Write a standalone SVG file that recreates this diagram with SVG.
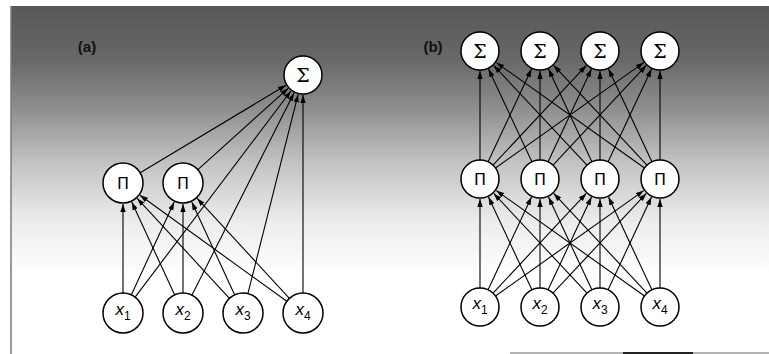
<svg xmlns="http://www.w3.org/2000/svg" width="769" height="354" viewBox="0 0 769 354">
  <defs>
    <linearGradient id="bg" x1="0" y1="6" x2="0" y2="275" gradientUnits="userSpaceOnUse">
      <stop offset="0" stop-color="#585858"/>
      <stop offset="0.2" stop-color="#686868"/>
      <stop offset="0.38" stop-color="#8e8e8e"/>
      <stop offset="0.58" stop-color="#c2c2c2"/>
      <stop offset="0.8" stop-color="#ececec"/>
      <stop offset="1" stop-color="#ffffff"/>
    </linearGradient>
    <marker id="arrow" viewBox="0 0 8 6" refX="8" refY="3" markerWidth="8" markerHeight="6" markerUnits="userSpaceOnUse" orient="auto">
      <path d="M0,0.3 L8,3 L0,5.7 Z" fill="#000"/>
    </marker>
    <style>
      .edge { stroke: #000; stroke-width: 1.1; fill: none; marker-end: url(#arrow); }
      .node circle { fill: #fff; stroke: #000; stroke-width: 1.5; }
      .sum { font-family: "DejaVu Serif", "Liberation Serif", serif; font-size: 19px; text-anchor: middle; fill: #000; }
      .prod { font-family: "DejaVu Sans", "Liberation Sans", sans-serif; font-size: 16px; text-anchor: middle; fill: #000; }
      .var { font-family: "Liberation Sans", Arial, sans-serif; font-size: 17px; font-style: italic; text-anchor: middle; fill: #000; }
      .sub { font-size: 12px; font-style: normal; }
      .panel { font-family: "Liberation Sans", Arial, sans-serif; font-size: 15px; font-weight: bold; fill: #111; text-anchor: middle; }
    </style>
  </defs>

  <!-- page and shaded backdrop -->
  <rect x="0" y="0" width="769" height="354" fill="#fff"/>
  <rect x="11" y="6" width="758" height="348" fill="url(#bg)"/>
  <line x1="11" y1="6" x2="11" y2="354" stroke="#7a7a7a" stroke-width="1.5"/>
  <line x1="510" y1="353" x2="769" y2="353" stroke="#9a9a9a" stroke-width="1.5"/>
  <line x1="623" y1="353" x2="693" y2="353" stroke="#222" stroke-width="2"/>

  <!-- panel labels -->
  <text class="panel" x="87" y="52">(a)</text>
  <text class="panel" x="433" y="52">(b)</text>

  <g id="connectors">
    <!-- (a) inputs to product units -->
    <line class="edge" x1="123" y1="293" x2="123" y2="204"/>
    <line class="edge" x1="131.4" y1="294.8" x2="174.2" y2="202.1"/>
    <line class="edge" x1="174.6" y1="294.8" x2="131.8" y2="202.1"/>
    <line class="edge" x1="183" y1="293" x2="183" y2="204"/>
    <line class="edge" x1="229.4" y1="298.3" x2="137.2" y2="198.4"/>
    <line class="edge" x1="234.6" y1="294.8" x2="191.8" y2="202.1"/>
    <line class="edge" x1="286.8" y1="301.3" x2="140.0" y2="195.3"/>
    <line class="edge" x1="289.4" y1="298.3" x2="197.2" y2="198.4"/>
    <!-- (a) product units to sum -->
    <line class="edge" x1="140.2" y1="172.7" x2="285.9" y2="85.3"/>
    <line class="edge" x1="197.9" y1="169.6" x2="288.1" y2="88.4"/>
    <!-- (a) inputs straight to sum -->
    <line class="edge" x1="135.1" y1="297.1" x2="290.9" y2="91.0"/>
    <line class="edge" x1="192.0" y1="295.1" x2="294.0" y2="92.9"/>
    <line class="edge" x1="247.9" y1="293.6" x2="298.1" y2="94.4"/>
    <line class="edge" x1="303" y1="293" x2="303" y2="95"/>

    <!-- (b) inputs to product units -->
    <line class="edge" x1="480" y1="288" x2="480" y2="199"/>
    <line class="edge" x1="488.1" y1="289.8" x2="531.5" y2="197.1"/>
    <line class="edge" x1="493.0" y1="293.1" x2="586.3" y2="193.4"/>
    <line class="edge" x1="495.5" y1="296.0" x2="643.7" y2="190.6"/>

    <line class="edge" x1="531.9" y1="289.8" x2="488.5" y2="197.1"/>
    <line class="edge" x1="540" y1="288" x2="540" y2="199"/>
    <line class="edge" x1="548.1" y1="289.8" x2="591.5" y2="197.1"/>
    <line class="edge" x1="553.0" y1="293.1" x2="646.3" y2="193.4"/>

    <line class="edge" x1="587.0" y1="293.1" x2="493.7" y2="193.4"/>
    <line class="edge" x1="591.9" y1="289.8" x2="548.5" y2="197.1"/>
    <line class="edge" x1="600" y1="288" x2="600" y2="199"/>
    <line class="edge" x1="608.1" y1="289.8" x2="651.5" y2="197.1"/>

    <line class="edge" x1="644.5" y1="296.0" x2="496.3" y2="190.6"/>
    <line class="edge" x1="647.0" y1="293.1" x2="553.7" y2="193.4"/>
    <line class="edge" x1="651.9" y1="289.8" x2="608.5" y2="197.1"/>
    <line class="edge" x1="660" y1="288" x2="660" y2="199"/>

    <!-- (b) product units to sums -->
    <line class="edge" x1="480" y1="160" x2="480" y2="71"/>
    <line class="edge" x1="488.1" y1="161.8" x2="531.5" y2="69.1"/>
    <line class="edge" x1="493.0" y1="165.1" x2="586.3" y2="65.4"/>
    <line class="edge" x1="495.5" y1="168.0" x2="643.7" y2="62.6"/>

    <line class="edge" x1="531.9" y1="161.8" x2="488.5" y2="69.1"/>
    <line class="edge" x1="540" y1="160" x2="540" y2="71"/>
    <line class="edge" x1="548.1" y1="161.8" x2="591.5" y2="69.1"/>
    <line class="edge" x1="553.0" y1="165.1" x2="646.3" y2="65.4"/>

    <line class="edge" x1="587.0" y1="165.1" x2="493.7" y2="65.4"/>
    <line class="edge" x1="591.9" y1="161.8" x2="548.5" y2="69.1"/>
    <line class="edge" x1="600" y1="160" x2="600" y2="71"/>
    <line class="edge" x1="608.1" y1="161.8" x2="651.5" y2="69.1"/>

    <line class="edge" x1="644.5" y1="168.0" x2="496.3" y2="62.6"/>
    <line class="edge" x1="647.0" y1="165.1" x2="553.7" y2="65.4"/>
    <line class="edge" x1="651.9" y1="161.8" x2="608.5" y2="69.1"/>
    <line class="edge" x1="660" y1="160" x2="660" y2="71"/>
  </g>

  <!-- panel (a) nodes -->
  <g id="a-sum" class="node"><circle cx="303" cy="75" r="19"/><text class="sum" x="303" y="82">Σ</text></g>
  <g id="a-prod1" class="node"><circle cx="123" cy="183" r="20"/><text class="prod" x="123" y="189">Π</text></g>
  <g id="a-prod2" class="node"><circle cx="183" cy="183" r="20"/><text class="prod" x="183" y="189">Π</text></g>
  <g id="a-x1" class="node"><circle cx="123" cy="313" r="20"/><text class="var" x="123" y="315">x<tspan class="sub" dy="5">1</tspan></text></g>
  <g id="a-x2" class="node"><circle cx="183" cy="313" r="20"/><text class="var" x="183" y="315">x<tspan class="sub" dy="5">2</tspan></text></g>
  <g id="a-x3" class="node"><circle cx="243" cy="313" r="20"/><text class="var" x="243" y="315">x<tspan class="sub" dy="5">3</tspan></text></g>
  <g id="a-x4" class="node"><circle cx="303" cy="313" r="20"/><text class="var" x="303" y="315">x<tspan class="sub" dy="5">4</tspan></text></g>

  <!-- panel (b) nodes -->
  <g id="b-sum1" class="node"><circle cx="480" cy="51" r="19"/><text class="sum" x="480" y="58">Σ</text></g>
  <g id="b-sum2" class="node"><circle cx="540" cy="51" r="19"/><text class="sum" x="540" y="58">Σ</text></g>
  <g id="b-sum3" class="node"><circle cx="600" cy="51" r="19"/><text class="sum" x="600" y="58">Σ</text></g>
  <g id="b-sum4" class="node"><circle cx="660" cy="51" r="19"/><text class="sum" x="660" y="58">Σ</text></g>
  <g id="b-prod1" class="node"><circle cx="480" cy="179" r="19"/><text class="prod" x="480" y="185">Π</text></g>
  <g id="b-prod2" class="node"><circle cx="540" cy="179" r="19"/><text class="prod" x="540" y="185">Π</text></g>
  <g id="b-prod3" class="node"><circle cx="600" cy="179" r="19"/><text class="prod" x="600" y="185">Π</text></g>
  <g id="b-prod4" class="node"><circle cx="660" cy="179" r="19"/><text class="prod" x="660" y="185">Π</text></g>
  <g id="b-x1" class="node"><circle cx="480" cy="307" r="19"/><text class="var" x="480" y="309">x<tspan class="sub" dy="5">1</tspan></text></g>
  <g id="b-x2" class="node"><circle cx="540" cy="307" r="19"/><text class="var" x="540" y="309">x<tspan class="sub" dy="5">2</tspan></text></g>
  <g id="b-x3" class="node"><circle cx="600" cy="307" r="19"/><text class="var" x="600" y="309">x<tspan class="sub" dy="5">3</tspan></text></g>
  <g id="b-x4" class="node"><circle cx="660" cy="307" r="19"/><text class="var" x="660" y="309">x<tspan class="sub" dy="5">4</tspan></text></g>
</svg>
